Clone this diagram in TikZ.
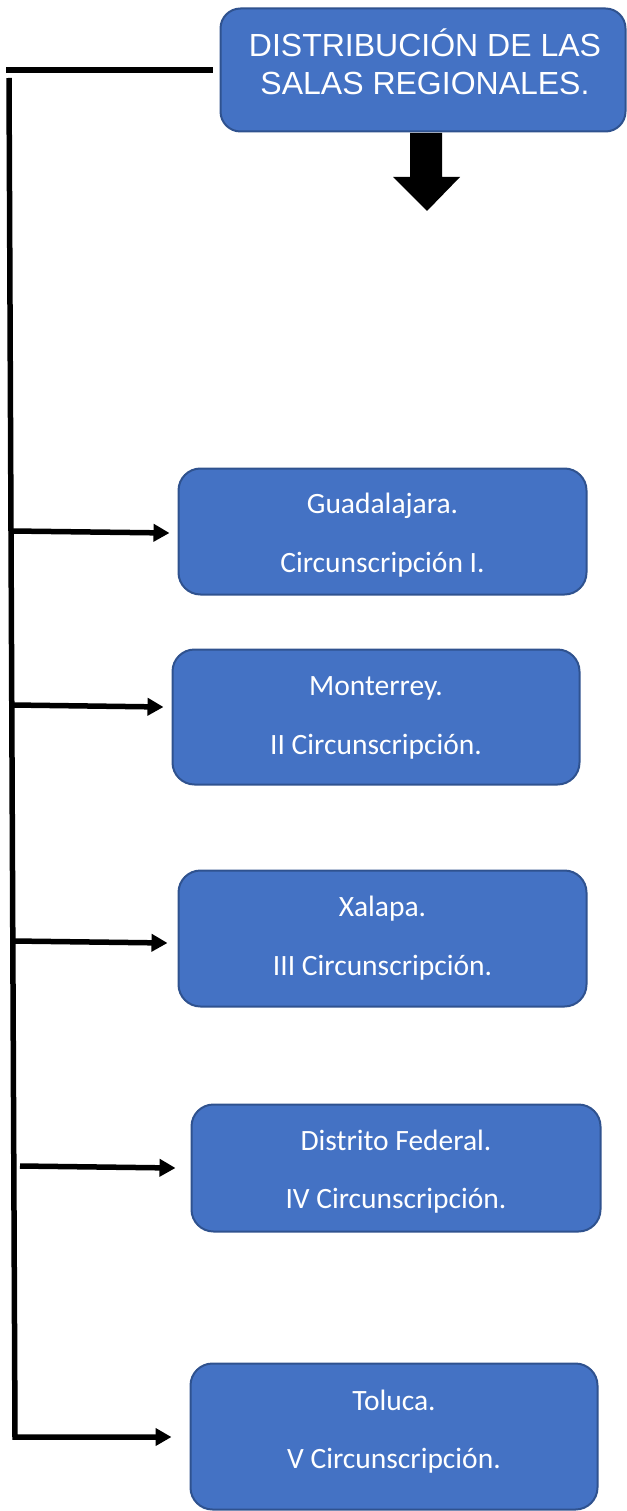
\documentclass[tikz,border=0pt]{standalone}
\usepackage{fontspec}
\setmainfont{Carlito}
\newfontfamily\titlefont{Liberation Sans}
\usetikzlibrary{arrows.meta,calc}
\definecolor{boxfill}{HTML}{4472C4}
\definecolor{boxline}{HTML}{2F528F}
\tikzset{
  salabox/.style={draw=boxline, fill=boxfill, line width=2pt, rounded corners=22pt, inner sep=0pt},
  salatext/.style={anchor=base, text=white, font=\fontsize{29.5}{32}\selectfont, inner sep=0pt},
  titletext/.style={anchor=base, text=white, font=\titlefont\fontsize{32}{36}\selectfont, inner sep=0pt},
  linkarrow/.style={line width=5.5pt, -{Triangle[length=16pt,width=17pt]}},
  trunkline/.style={line width=5.5pt, line join=miter},
}
\begin{document}
\begin{tikzpicture}[x=1pt,y=-1pt]
\useasboundingbox (0,0) rectangle (626,1511);
% title box
\node[salabox, rounded corners=20pt, minimum width=405pt, minimum height=123pt] (title) at (423,70) {};
\node[titletext] (t1) at (425,57) {DISTRIBUCIÓN DE LAS};
\node[titletext] (t2) at (425,95) {SALAS REGIONALES.};
% block arrow
\fill[black] (410,133) -- (442,133) -- (442,177) -- (460,177) -- (427,211) -- (393,177) -- (410,177) -- cycle;
% boxes
\node[salabox, minimum width=408pt, minimum height=126pt] (b1) at (382.5,531.5) {};
\node[salatext] (b1a) at (382.5,513) {Guadalajara.};
\node[salatext] (b1b) at (382.5,572) {Circunscripción I.};

\node[salabox, minimum width=407pt, minimum height=135pt] (b2) at (376,717) {};
\node[salatext] (b2a) at (376,695) {Monterrey.};
\node[salatext] (b2b) at (376,754) {II Circunscripción.};

\node[salabox, minimum width=408pt, minimum height=136pt] (b3) at (382.5,938.5) {};
\node[salatext] (b3a) at (382.5,916) {Xalapa.};
\node[salatext] (b3b) at (382.5,975) {III Circunscripción.};

\node[salabox, minimum width=409pt, minimum height=127pt] (b4) at (396,1168) {};
\node[salatext] (b4a) at (396,1150) {Distrito Federal.};
\node[salatext] (b4b) at (396,1208) {IV Circunscripción.};

\node[salabox, minimum width=407pt, minimum height=146pt] (b5) at (394,1436.5) {};
\node[salatext] (b5a) at (394,1410) {Toluca.};
\node[salatext] (b5b) at (394,1468) {V Circunscripción.};

% trunk
\coordinate (h0) at (6,70);
\coordinate (h1) at (213,70);
\coordinate (v0) at (9,78);
\coordinate (v1) at (15,1437);
\draw[trunkline] (h0) -- (h1);
\coordinate (a1) at (12,531);
\coordinate (a2) at (12.5,705);
\coordinate (a3) at (13,941);
\coordinate (a4) at (20,1166);
\draw[trunkline, -{Triangle[length=16pt,width=17pt]}] (v0) -- (v1) -- ($(b5.west)+(-18,0.5)$);
\draw[linkarrow] (a1) -- ($(b1.west)+(-8,1.5)$);
\draw[linkarrow] (a2) -- ($(b2.west)+(-8,-10)$);
\draw[linkarrow] (a3) -- ($(b3.west)+(-10,4.5)$);
\draw[linkarrow] (a4) -- ($(b4.west)+(-15,0)$);
\end{tikzpicture}
\end{document}
